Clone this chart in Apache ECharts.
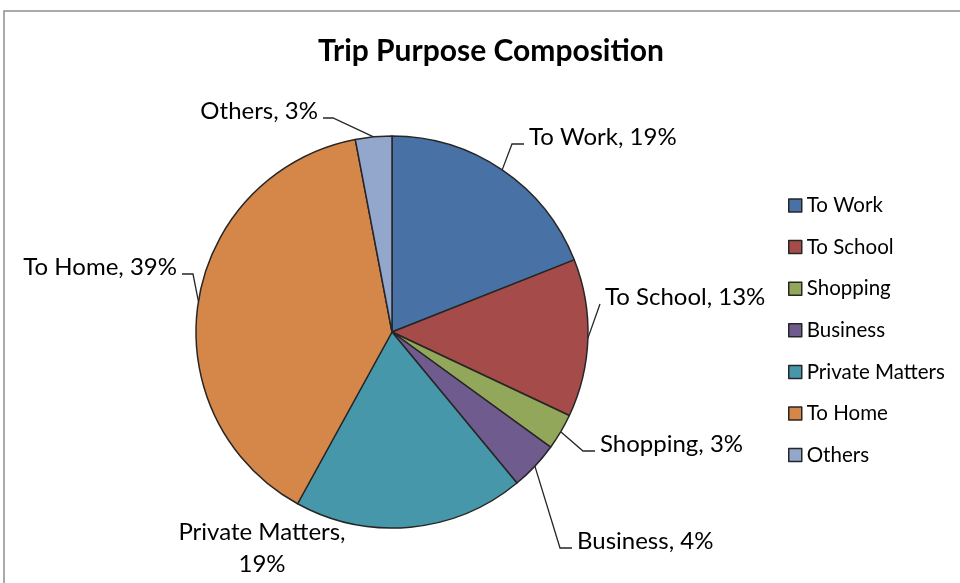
<!DOCTYPE html>
<html>
<head>
<meta charset="utf-8">
<script src="https://cdn.jsdelivr.net/npm/echarts@6/dist/echarts.min.js"></script>
<style>
  html, body { margin: 0; padding: 0; background: #ffffff; }
  #chart { width: 960px; height: 583px; }
</style>
</head>
<body>
<div id="chart"></div>
<script>
// Share of trips by purpose (percent)
const categories = ['To Work', 'To School', 'Shopping', 'Business', 'Private Matters', 'To Home', 'Others'];
const shares = [19, 13, 3, 4, 19, 39, 3];
const sliceColors = ['#4872A6', '#A54C4A', '#93A75B', '#6F5B8E', '#4797AB', '#D5874A', '#93A7CD'];

// Where each data label sits: text anchor, alignment and the length of the
// horizontal hook of its leader line (null = no leader line).
const labelSpots = [
  { x: 529, y: 137, align: 'left',   hook: 12 },
  { x: 605, y: 297, align: 'left',   hook: 0 },
  { x: 600, y: 444, align: 'left',   hook: 12 },
  { x: 577, y: 541, align: 'left',   hook: 12 },
  { x: 262, y: 548, align: 'center', hook: null },
  { x: 177, y: 267, align: 'right',  hook: 11 },
  { x: 318, y: 111, align: 'right',  hook: 10 }
];

const FONT = 'Lato, "Noto Sans", sans-serif';

const chart = echarts.init(document.getElementById('chart'), null, { renderer: 'canvas' });

chart.setOption({
  animation: false,
  backgroundColor: '#ffffff',
  graphic: [{
    type: 'rect',
    shape: { x: 4, y: 11, width: 1200, height: 1200 },
    style: { fill: 'none', stroke: '#8f8f8f', lineWidth: 1.5 },
    silent: true,
    z: -1
  }],
  title: {
    text: 'Trip Purpose Composition',
    left: 313,
    top: 31,
    textStyle: { fontFamily: FONT, fontSize: 30, fontWeight: 'bold', color: '#000000' }
  },
  legend: {
    orient: 'vertical',
    left: 788,
    top: 195,
    padding: 0,
    itemWidth: 13,
    itemHeight: 13,
    itemGap: 20.6,
    icon: 'rect',
    selectedMode: false,
    data: categories,
    itemStyle: { borderColor: '#262626', borderWidth: 1.5 },
    textStyle: { fontFamily: FONT, fontSize: 20.5, color: '#000000', lineHeight: 14 }
  },
  series: [{
    type: 'pie',
    center: [392, 332],
    radius: 196,
    startAngle: 90,
    clockwise: true,
    silent: true,
    emphasis: { disabled: true },
    itemStyle: { borderColor: '#262626', borderWidth: 1.5 },
    label: {
      show: true,
      position: 'outside',
      overflow: 'none',
      fontFamily: FONT,
      fontSize: 24,
      color: '#000000',
      lineHeight: 32,
      formatter: function (p) {
        return p.dataIndex === 4 ? p.name + ',\n' + p.value + '%' : p.name + ', ' + p.value + '%';
      }
    },
    labelLine: {
      show: true,
      smooth: false,
      lineStyle: { color: '#262626', width: 1.3 }
    },
    labelLayout: function (params) {
      const spot = labelSpots[params.dataIndex];
      const out = { x: spot.x, y: spot.y, align: spot.align, verticalAlign: 'middle' };
      const pts = params.labelLinePoints;
      if (spot.hook !== null && pts && pts.length) {
        const dir = spot.align === 'left' ? -1 : 1;
        const endX = spot.x + dir * 5;
        const endY = spot.y + 7;
        out.labelLinePoints = [
          [pts[0][0], pts[0][1]],
          [endX + dir * spot.hook, endY],
          [endX, endY]
        ];
      }
      return out;
    },
    data: categories.map(function (name, i) {
      return {
        name: name,
        value: shares[i],
        itemStyle: { color: sliceColors[i] },
        labelLine: { show: labelSpots[i].hook !== null }
      };
    })
  }]
});
</script>
</body>
</html>
